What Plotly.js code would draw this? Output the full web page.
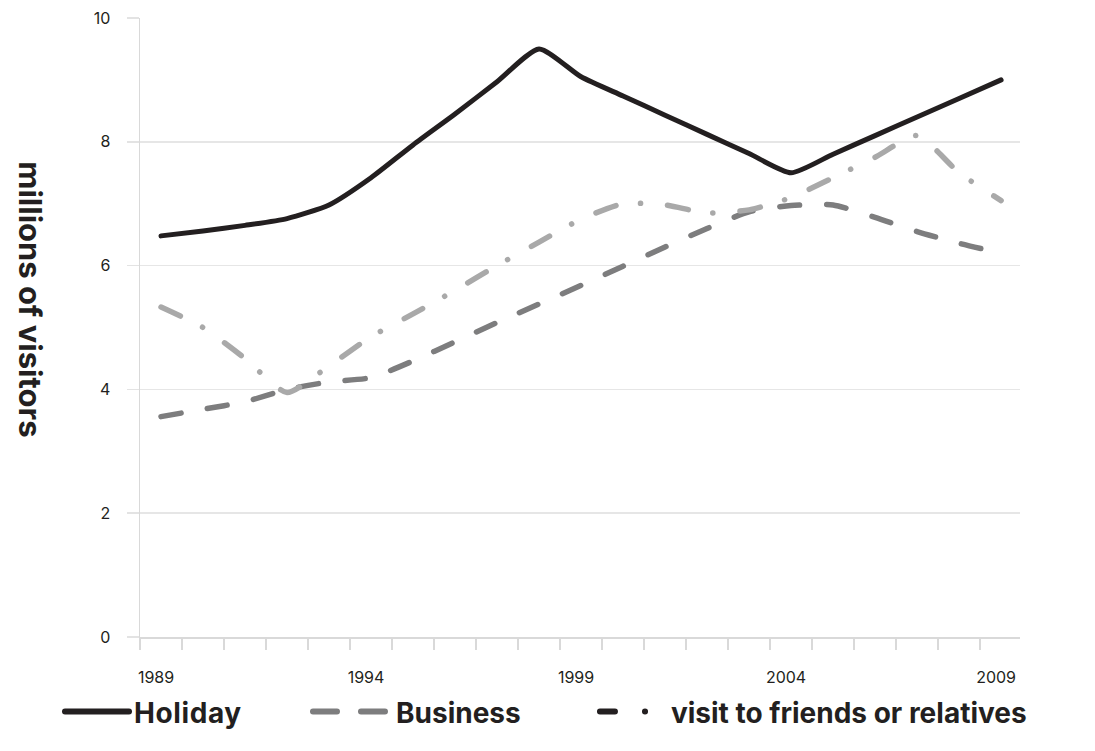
<!DOCTYPE html>
<html>
<head>
<meta charset="utf-8">
<script src="https://cdn.plot.ly/plotly-3.0.1.min.js"></script>
<style>
  html, body { margin: 0; padding: 0; background: #fff; }
  #chart { width: 1095px; height: 751px; }
  path.js-line { stroke-linecap: round; stroke-linejoin: round; }
</style>
</head>
<body>
<div id="chart"></div>
<script>
const years = [1989,1990,1991,1992,1993,1994,1995,1996,1997,1998,1999,2000,2001,2002,2003,2004,2005,2006,2007,2008,2009];
const holiday  = [6.48,6.56,6.65,6.76,6.98,7.42,7.95,8.45,8.97,9.5,9.05,8.74,8.43,8.12,7.81,7.5,7.8,8.1,8.4,8.7,9.0];
const business = [3.56,3.68,3.8,4.0,4.12,4.19,4.46,4.77,5.08,5.38,5.68,5.99,6.3,6.6,6.87,6.97,6.98,6.78,6.55,6.36,6.2];
const vfr      = [5.33,5.0,4.5,3.95,4.38,4.85,5.22,5.6,6.0,6.38,6.75,7.0,6.98,6.85,6.9,7.1,7.42,7.75,8.1,7.5,7.05];
const seriesNames = ['Holiday','Business','visit to friends or relatives'];
const yTitle = 'millions of visitors';

const FONT = 'Inter, "Open Sans", sans-serif';
const DARK = '#231f20';

const traces = [
  {x: years, y: holiday, mode: 'lines', showlegend: false, hoverinfo: 'skip',
   line: {color: DARK, width: 5, shape: 'spline', smoothing: 0.6}},
  {x: years, y: business, mode: 'lines', showlegend: false, hoverinfo: 'skip',
   line: {color: '#7d7d7e', width: 5.5, shape: 'spline', smoothing: 0.6, dash: '20px,27px'}},
  {x: years, y: vfr, mode: 'lines', showlegend: false, hoverinfo: 'skip',
   line: {color: '#a9a9a9', width: 5.5, shape: 'spline', smoothing: 0.6, dash: '21px,25px,0.1px,27px'}},
  // legend entries (styled as in the reference legend)
  {x: [null], y: [null], mode: 'lines', name: seriesNames[0], legend: 'legend',
   line: {color: DARK, width: 6}},
  {x: [null], y: [null], mode: 'lines', name: seriesNames[1], legend: 'legend2',
   line: {color: '#7d7d7e', width: 6, dash: '24px,24px'}},
  {x: [null], y: [null], mode: 'lines', name: seriesNames[2], legend: 'legend3',
   line: {color: DARK, width: 6, dash: '15px,30px,0.1px,80px'}}
];

const legendBase = {
  orientation: 'h', xanchor: 'left', y: -0.121, yanchor: 'middle',
  font: {family: FONT, size: 28, color: DARK, weight: 'bold'},
  bgcolor: 'rgba(0,0,0,0)'
};

const layout = {
  width: 1095, height: 751,
  margin: {l: 140, r: 75, t: 18, b: 114},
  paper_bgcolor: '#fff', plot_bgcolor: '#fff',
  font: {family: FONT, color: DARK, size: 16},
  xaxis: {
    range: [1988.5, 2009.45],
    tickmode: 'linear', tick0: 1989, dtick: 5,
    ticks: '', showgrid: false, zeroline: false,
    showline: true, linecolor: '#d9d9d9', linewidth: 1.5,
    ticklabelstandoff: 25, ticklabelshift: -5,
    tickfont: {family: FONT, size: 16, color: DARK},
    minor: {tickmode: 'linear', tick0: 1988.5, dtick: 1, ticks: 'outside', ticklen: 11, tickcolor: '#d9d9d9', tickwidth: 1.5, showgrid: false}
  },
  yaxis: {
    range: [0, 10], tickmode: 'linear', tick0: 0, dtick: 2,
    ticks: 'outside', ticklen: 12, tickcolor: '#e3e3e3', tickwidth: 1.5,
    showgrid: true, gridcolor: '#e6e6e6', gridwidth: 1.5,
    zeroline: false, showline: true, linecolor: '#d9d9d9', linewidth: 1.5,
    ticklabelstandoff: 13,
    tickfont: {family: FONT, size: 16, color: DARK}
  },
  showlegend: true,
  legend:  Object.assign({}, legendBase, {x: -0.0909, itemwidth: 64}),
  legend2: Object.assign({}, legendBase, {x: 0.1909, itemwidth: 78}),
  legend3: Object.assign({}, legendBase, {x: 0.517, itemwidth: 66}),
  annotations: [{
    text: yTitle, xref: 'paper', yref: 'paper', x: -0.124, y: 0.546,
    xanchor: 'center', yanchor: 'middle', textangle: 90, showarrow: false,
    font: {family: FONT, size: 31, color: DARK, weight: 'bold'}
  }]
};

const spacing = {'Holiday': '0.6px', 'Business': '0.9px', 'visit to friends or relatives': '2px'};
Plotly.newPlot('chart', traces, layout, {displayModeBar: false, staticPlot: true}).then(function (gd) {
  gd.querySelectorAll('text.legendtext').forEach(function (t) {
    const s = spacing[t.textContent];
    if (s) { t.setAttribute('letter-spacing', s); t.style.letterSpacing = s; }
  });
});
</script>
</body>
</html>
